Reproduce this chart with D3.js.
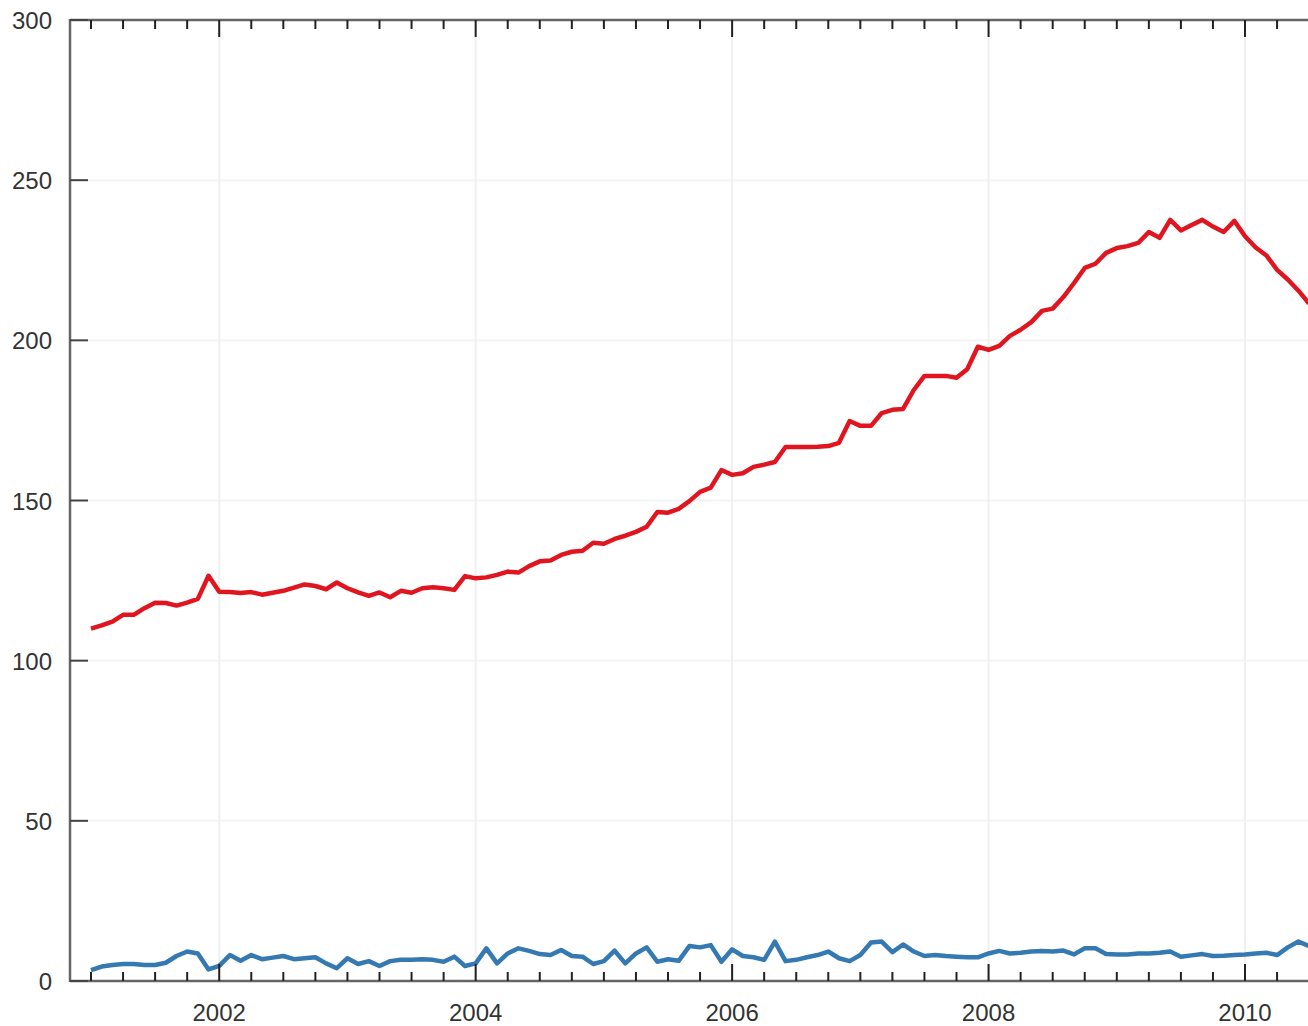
<!DOCTYPE html>
<html>
<head>
<meta charset="utf-8">
<script src="https://cdn.jsdelivr.net/npm/d3@7"></script>
<style>
  body { margin: 0; background: #fff; }
  text { font-family: "Liberation Sans", Arial, sans-serif; fill: #333; }
</style>
</head>
<body>
<div id="chart"></div>
<script>
// monthly series, Jan 2001 .. Jul 2010
var startYear = 2001

var redValues = [
  110.0, 111.0, 112.2, 114.3, 114.3, 116.4, 118.1, 118.0, 117.2, 118.1, 119.3, 126.5,
  121.5, 121.4, 121.1, 121.4, 120.6, 121.2, 121.8, 122.8, 123.8, 123.3, 122.3, 124.4,
  122.6, 121.3, 120.2, 121.3, 119.8, 121.8, 121.2, 122.6, 122.9, 122.6, 122.1, 126.4,
  125.7, 126.0, 126.8, 127.8, 127.5, 129.5, 131.0, 131.3, 133.0, 134.0, 134.3, 136.8,
  136.5, 138.0, 139.0, 140.2, 141.8, 146.4, 146.2, 147.4, 149.8, 152.7, 154.0, 159.5,
  158.0, 158.5, 160.5, 161.2, 162.0, 166.7, 166.7, 166.7, 166.8, 167.0, 168.0, 174.8,
  173.3, 173.3, 177.3, 178.3, 178.6, 184.5, 188.9, 188.9, 188.9, 188.3, 191.0, 198.0,
  197.0, 198.3, 201.4, 203.3, 205.7, 209.2, 209.9, 213.5, 217.9, 222.6, 223.9, 227.3,
  228.8, 229.4, 230.4, 233.8, 232.0, 237.6, 234.3, 236.0, 237.6, 235.5, 233.8, 237.3,
  232.5, 229.0, 226.5, 222.0, 219.0, 215.5, 211.5
]

var blueValues = [
  3.4, 4.5, 5.0, 5.3, 5.3, 5.0, 5.0, 5.7, 7.8, 9.2, 8.6, 3.6,
  4.7, 8.1, 6.3, 8.1, 6.8, 7.3, 7.8, 6.8, 7.1, 7.4, 5.5, 4.0,
  7.1, 5.3, 6.2, 4.7, 6.2, 6.6, 6.6, 6.8, 6.6, 6.0, 7.6, 4.7,
  5.5, 10.2, 5.5, 8.6, 10.2, 9.4, 8.4, 8.1, 9.7, 7.8, 7.6, 5.3,
  6.2, 9.5, 5.5, 8.6, 10.5, 6.0, 6.8, 6.3, 10.9, 10.5, 11.2, 6.0,
  9.9, 7.8, 7.4, 6.6, 12.3, 6.2, 6.6, 7.4, 8.1, 9.2, 7.1, 6.2,
  8.1, 12.0, 12.3, 9.0, 11.4, 9.2, 7.8, 8.1, 7.8, 7.6, 7.4, 7.4,
  8.6, 9.4, 8.6, 8.8, 9.2, 9.4, 9.2, 9.5, 8.3, 10.2, 10.2, 8.4,
  8.3, 8.3, 8.6, 8.6, 8.8, 9.2, 7.6, 8.0, 8.4, 7.8, 7.9, 8.1,
  8.3, 8.6, 8.8, 8.1, 10.5, 12.3, 10.9
]

var yTicks = [0, 50, 100, 150, 200, 250, 300]
var xMajorTicks = [2002, 2004, 2006, 2008, 2010]

var width = 1308, height = 1026
var margin = {left: 70, top: 20, bottom: 45}

var svg = d3.select('#chart').append('svg')
  .attr('width', width).attr('height', height)

var x = d3.scaleLinear()
  .domain([2001 - 21 / 128.25, 2010 + 63 / 128.25])
  .range([margin.left, width])
var y = d3.scaleLinear()
  .domain([0, 300])
  .range([height - margin.bottom, margin.top])

var x0 = margin.left, x1 = width
var y0 = y(0), y1 = y(300)

// quarter-year minor ticks
var xMinorTicks = d3.range(startYear * 4, Math.floor(x.domain()[1] * 4) + 1)
  .map(function(q){ return q / 4 })
  .filter(function(t){ return xMajorTicks.indexOf(t) < 0 })

// faint grid
svg.append('g').selectAll('line.hgrid')
  .data(yTicks.filter(function(d){ return d > 0 && d < 300 }))
  .enter().append('line')
  .attr('x1', x0).attr('x2', x1)
  .attr('y1', function(d){ return y(d) }).attr('y2', function(d){ return y(d) })
  .attr('stroke', '#f4f4f4').attr('stroke-width', 2)

svg.append('g').selectAll('line.vgrid')
  .data(xMajorTicks)
  .enter().append('line')
  .attr('x1', function(d){ return x(d) }).attr('x2', function(d){ return x(d) })
  .attr('y1', y1).attr('y2', y0)
  .attr('stroke', '#f0f0f0').attr('stroke-width', 2)

// series
svg.append('clipPath').attr('id', 'clip')
  .append('rect').attr('x', x0).attr('y', y1).attr('width', x1 - x0).attr('height', y0 - y1)

function toPoints(vals){
  return vals.map(function(v, i){ return {t: startYear + i / 12, v: v} })
}

var line = d3.line()
  .x(function(d){ return x(d.t) })
  .y(function(d){ return y(d.v) })

var plot = svg.append('g').attr('clip-path', 'url(#clip)')

plot.append('path')
  .attr('d', line(toPoints(blueValues)))
  .attr('fill', 'none').attr('stroke', '#3579b3')
  .attr('stroke-width', 4.5).attr('stroke-linejoin', 'round')

plot.append('path')
  .attr('d', line(toPoints(redValues)))
  .attr('fill', 'none').attr('stroke', '#e0151f')
  .attr('stroke-width', 4.5).attr('stroke-linejoin', 'round')

// frame
var axisColor = '#666'
svg.append('line').attr('x1', x0).attr('x2', x0).attr('y1', y1 - 1).attr('y2', y0 + 1)
  .attr('stroke', axisColor).attr('stroke-width', 2.5)
svg.append('line').attr('x1', x0).attr('x2', x1).attr('y1', y1).attr('y2', y1)
  .attr('stroke', axisColor).attr('stroke-width', 2.5)
svg.append('line').attr('x1', x0).attr('x2', x1).attr('y1', y0).attr('y2', y0)
  .attr('stroke', axisColor).attr('stroke-width', 2.5)

// x ticks, top and bottom, pointing inward
var xTickData = xMinorTicks.map(function(t){ return {t: t, len: 9} })
  .concat(xMajorTicks.map(function(t){ return {t: t, len: 17} }))

;[[y0, -1], [y1, 1]].forEach(function(side){
  svg.append('g').selectAll('line')
    .data(xTickData)
    .enter().append('line')
    .attr('x1', function(d){ return x(d.t) }).attr('x2', function(d){ return x(d.t) })
    .attr('y1', side[0]).attr('y2', function(d){ return side[0] + side[1] * d.len })
    .attr('stroke', '#222').attr('stroke-width', 2)
})

// y ticks
svg.append('g').selectAll('line')
  .data(yTicks)
  .enter().append('line')
  .attr('x1', x0).attr('x2', x0 + 18)
  .attr('y1', function(d){ return y(d) }).attr('y2', function(d){ return y(d) })
  .attr('stroke', '#444').attr('stroke-width', 2)

// labels
svg.append('g').selectAll('text')
  .data(yTicks)
  .enter().append('text')
  .attr('x', 52).attr('y', function(d){ return y(d) + 9 })
  .attr('text-anchor', 'end')
  .style('font-size', '24px')
  .text(function(d){ return d })

svg.append('g').selectAll('text')
  .data(xMajorTicks)
  .enter().append('text')
  .attr('x', function(d){ return x(d) }).attr('y', 1021)
  .attr('text-anchor', 'middle')
  .style('font-size', '24px')
  .text(function(d){ return d })
</script>
</body>
</html>
